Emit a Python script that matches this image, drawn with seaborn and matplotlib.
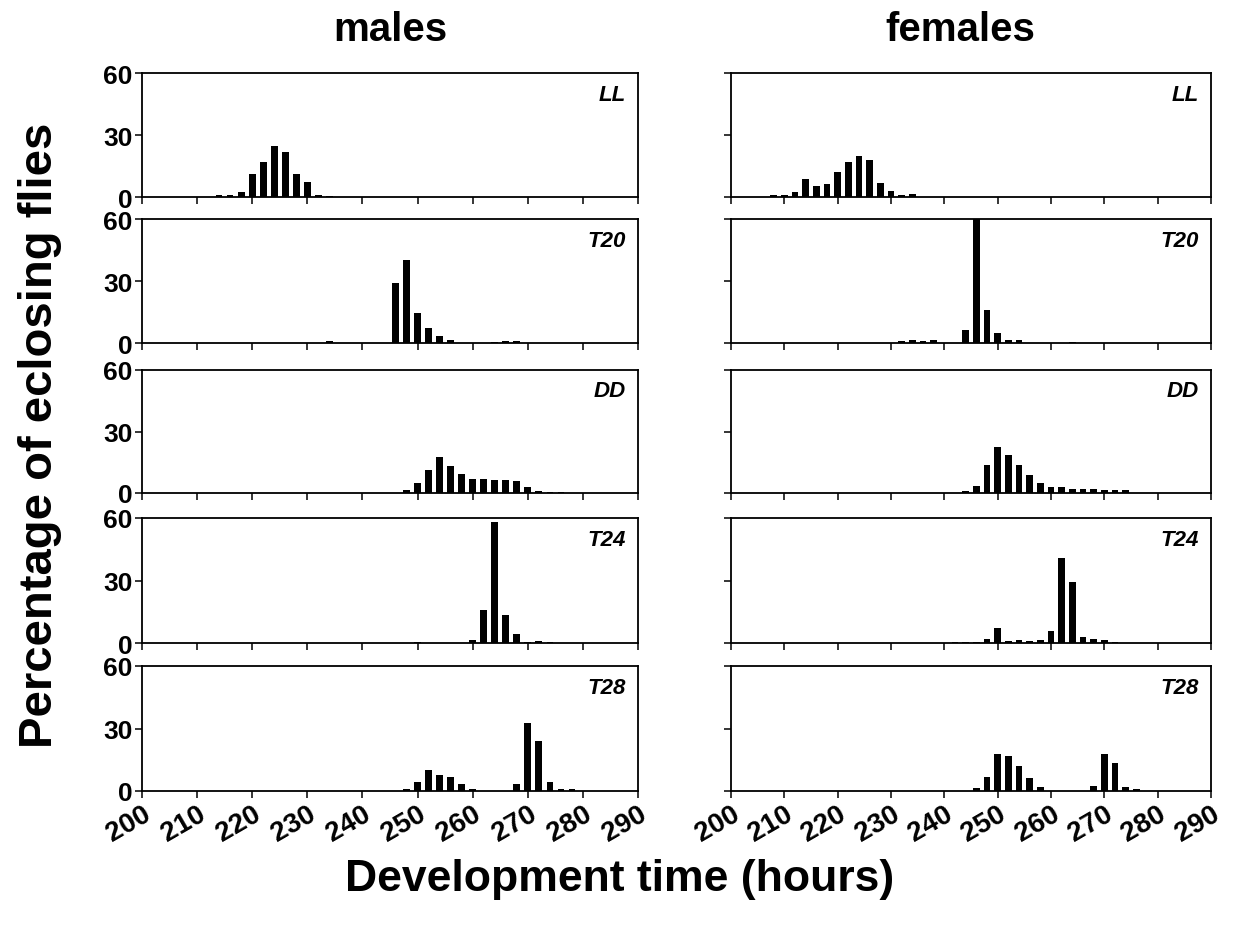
import matplotlib
matplotlib.use("Agg")
import matplotlib.pyplot as plt
import seaborn as sns
import pandas as pd

sns.set_theme(style="white")
plt.rcParams['font.family'] = ['Liberation Sans', 'DejaVu Sans']
plt.rcParams['text.color'] = 'black'
plt.rcParams['xtick.color'] = 'black'
plt.rcParams['ytick.color'] = 'black'

# --- data: development time (h) and % eclosing flies, per regime ---
regimes = ["LL", "T20", "DD", "T24", "T28"]

m_ll_h = [214, 216, 218, 220, 222, 224, 226, 228, 230, 232, 234]
m_ll_p = [1.0, 1.0, 2.4, 10.9, 17.0, 24.5, 21.9, 10.9, 7.5, 1.1, 0.6]
m_t20_h = [234, 246, 248, 250, 252, 254, 256, 264, 266, 268]
m_t20_p = [0.8, 28.9, 40.2, 14.4, 7.1, 3.5, 1.3, 0.6, 1.1, 1.0]
m_dd_h = [248, 250, 252, 254, 256, 258, 260, 262, 264, 266, 268, 270, 272, 274, 276]
m_dd_p = [1.5, 5.1, 11.0, 17.6, 13.3, 9.5, 7.0, 6.7, 6.5, 6.2, 5.7, 2.8, 1.0, 0.6, 0.4]
m_t24_h = [250, 260, 262, 264, 266, 268, 270, 272, 274]
m_t24_p = [0.5, 1.3, 15.7, 58.0, 13.5, 4.5, 0.6, 1.1, 0.5]
m_t28_h = [248, 250, 252, 254, 256, 258, 260, 268, 270, 272, 274, 276, 278]
m_t28_p = [1.0, 4.5, 10.0, 7.9, 6.5, 3.2, 0.8, 3.2, 32.7, 24.0, 4.2, 1.1, 1.0]

f_ll_h = [208, 210, 212, 214, 216, 218, 220, 222, 224, 226, 228, 230, 232, 234]
f_ll_p = [1.1, 1.1, 2.5, 8.9, 5.2, 6.2, 11.9, 16.9, 19.8, 18.0, 6.6, 2.8, 0.8, 1.3]
f_t20_h = [232, 234, 236, 238, 244, 246, 248, 250, 252, 254, 264]
f_t20_p = [1.0, 1.4, 1.0, 1.6, 6.4, 60.0, 16.2, 4.6, 1.4, 1.6, 0.6]
f_dd_h = [244, 246, 248, 250, 252, 254, 256, 258, 260, 262, 264, 266, 268, 270, 272, 274]
f_dd_p = [1.0, 3.2, 13.6, 22.2, 18.4, 13.8, 8.8, 5.0, 3.0, 2.9, 1.9, 1.8, 1.8, 1.4, 1.3, 1.3]
f_t24_h = [242, 244, 246, 248, 250, 252, 254, 256, 258, 260, 262, 264, 266, 268, 270, 272]
f_t24_p = [0.6, 0.6, 0.7, 1.8, 7.2, 1.1, 1.4, 1.0, 1.4, 5.6, 40.8, 29.4, 3.1, 1.8, 1.6, 0.6]
f_t28_h = [246, 248, 250, 252, 254, 256, 258, 268, 270, 272, 274, 276]
f_t28_p = [1.6, 6.6, 17.6, 16.8, 11.8, 6.2, 1.8, 2.6, 17.8, 13.6, 1.8, 1.0]

x_ticks = list(range(200, 291, 10))
y_ticks = [0, 30, 60]

males = [(m_ll_h, m_ll_p), (m_t20_h, m_t20_p), (m_dd_h, m_dd_p), (m_t24_h, m_t24_p), (m_t28_h, m_t28_p)]
females = [(f_ll_h, f_ll_p), (f_t20_h, f_t20_p), (f_dd_h, f_dd_p), (f_t24_h, f_t24_p), (f_t28_h, f_t28_p)]

W, H = 1244, 928
fig = plt.figure(figsize=(W / 100, H / 100), dpi=100)

rows_px = [(74, 198), (220, 344), (371, 494), (519, 644), (667, 792)]
cols_px = [(142, 638), (731, 1211)]

for c, (sex_data, (x0, x1)) in enumerate(zip([males, females], cols_px)):
    for r, ((hours, pct), (y0, y1)) in enumerate(zip(sex_data, rows_px)):
        ax = fig.add_axes([x0 / W, 1 - y1 / H, (x1 - x0) / W, (y1 - y0) / H])
        df = pd.DataFrame({"hours": hours, "pct": pct})
        sns.barplot(data=df, x="hours", y="pct", native_scale=True, width=0.6,
                    color="black", edgecolor="black", linewidth=0, ax=ax)
        ax.set_xlim(200, 290)
        ax.set_ylim(0, 60)
        ax.set_xticks(x_ticks)
        ax.set_yticks(y_ticks)
        ax.set_xlabel("")
        ax.set_ylabel("")
        for s in ax.spines.values():
            s.set_visible(True)
            s.set_color("black")
            s.set_linewidth(1.3)
        ax.tick_params(direction="out", length=5, width=1.1, color="black",
                       bottom=True, left=True, pad=2)
        if c == 0:
            ax.set_yticklabels([str(v) for v in y_ticks], fontsize=19, fontweight="bold")
        else:
            ax.set_yticklabels([])
        if r == len(rows_px) - 1:
            ax.set_xticklabels([str(v) for v in x_ticks], fontsize=20, fontweight="bold",
                               rotation=30, ha="right", rotation_mode="anchor")
        else:
            ax.set_xticklabels([])
        ax.text(0.975, 0.83, regimes[r], transform=ax.transAxes, ha="right", va="center",
                fontsize=16, fontweight="bold", style="italic")

fig.text(390 / W, 1 - 30 / H, "males", ha="center", va="center", fontsize=29, fontweight="bold")
fig.text(960 / W, 1 - 30 / H, "females", ha="center", va="center", fontsize=29, fontweight="bold")
fig.text(40 / W, 1 - 435 / H, "Percentage of eclosing flies", ha="center", va="center",
         rotation=90, fontsize=34, fontweight="bold")
fig.text(620 / W, 1 - 880 / H, "Development time (hours)", ha="center", va="center",
         fontsize=32, fontweight="bold")

fig.savefig("out.png", dpi=100)
